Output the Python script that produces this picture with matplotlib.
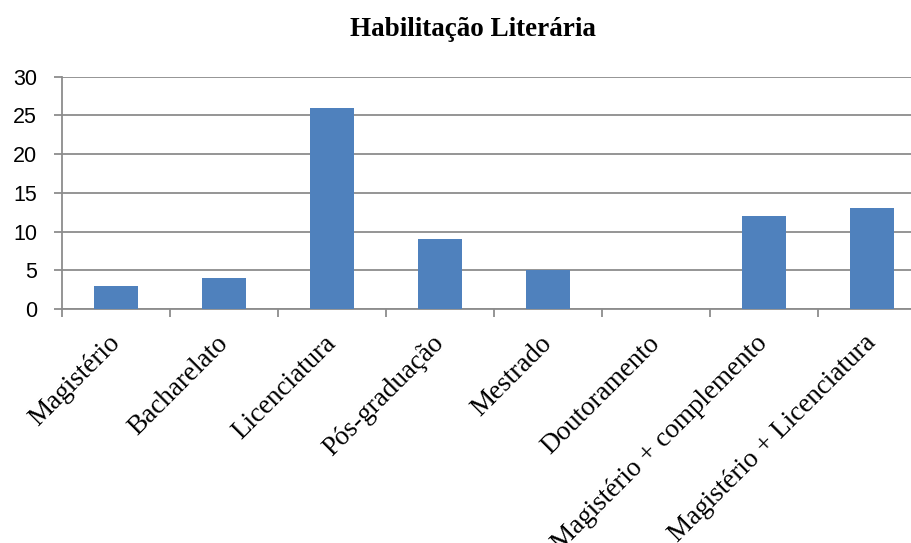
import matplotlib.pyplot as plt
import numpy as np

# dados do gráfico
categorias = ['Magistério', 'Bacharelato', 'Licenciatura', 'Pós-graduação',
              'Mestrado', 'Doutoramento', 'Magistério + complemento',
              'Magistério + Licenciatura']
valores = [3, 4, 26, 9, 5, 0, 12, 13]
y_ticks = [0, 5, 10, 15, 20, 25, 30]

cor_barra = '#4F81BD'
cor_grade = '#8C8C8C'

fig = plt.figure(figsize=(9.12, 5.43), dpi=100)
W, H = 912, 543
# a área do gráfico sai um pouco para fora da imagem à direita
ax = fig.add_axes([62 / W, (H - 309) / H, 864 / W, (309 - 76.7) / H])

x = np.arange(len(categorias))
ax.bar(x, valores, width=0.4, color=cor_barra, zorder=3)

ax.set_xlim(-0.5, len(categorias) - 0.5)
ax.set_ylim(0, 30)
ax.set_yticks(y_ticks)
ax.set_yticklabels([str(v) for v in y_ticks], family='Liberation Sans',
                   fontsize=15.5)
ax.yaxis.grid(True, color=cor_grade, linewidth=1.3, zorder=0)
ax.tick_params(axis='y', length=6, width=1.3, color=cor_grade, pad=12)

# marcas do eixo x entre categorias
ax.set_xticks(x)
ax.set_xticks(np.arange(-0.5, len(categorias), 1.0), minor=True)
ax.tick_params(axis='x', which='major', length=0, pad=22)
ax.tick_params(axis='x', which='minor', length=6, width=1.3, color=cor_grade)
ax.set_xticklabels(categorias, rotation=45, ha='right', va='center',
                   rotation_mode='anchor', family='Liberation Serif',
                   fontsize=19.5)

for lado in ['top', 'right']:
    ax.spines[lado].set_visible(False)
for lado in ['left', 'bottom']:
    ax.spines[lado].set_color(cor_grade)
    ax.spines[lado].set_linewidth(1.3)

fig.text(473 / W, 1 - 30 / H, 'Habilitação Literária', ha='center',
         va='center', family='Liberation Serif', fontweight='bold',
         fontsize=19.5)

fig.savefig('out.png', dpi=100)
